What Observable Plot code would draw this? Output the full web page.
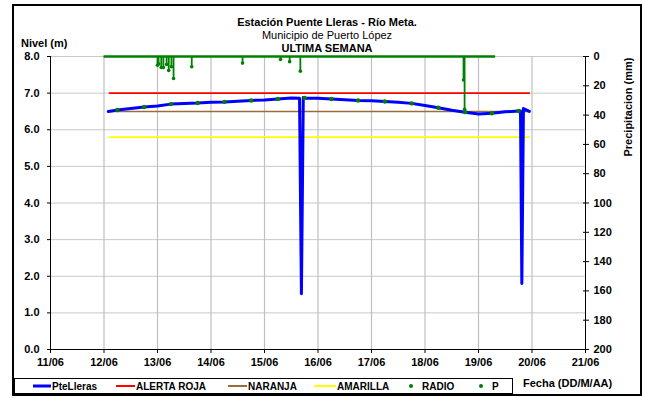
<!DOCTYPE html>
<html><head><meta charset="utf-8">
<script src="https://cdn.jsdelivr.net/npm/d3@7"></script>
<script src="https://cdn.jsdelivr.net/npm/@observablehq/plot@0.6"></script>
<style>
body{margin:0;background:#fff;}
#wrap{position:relative;width:645px;height:398px;font-family:Arial,"Liberation Sans",sans-serif;color:#000;overflow:hidden;}
#wrap svg{position:absolute;left:0;top:0;}
.t{position:absolute;white-space:nowrap;line-height:1;}
.c{transform:translate(-50%,-50%);}
.lg{position:absolute;top:50%;transform:translateY(-50%);}
</style></head><body><div id="wrap"></div>
<script>
// ---- data ----
const dayTicks = [11, 12, 13, 14, 15, 16, 17, 18, 19, 20, 21];
const levelTicks = [0, 1, 2, 3, 4, 5, 6, 7, 8];
const precipTicks = [0, 20, 40, 60, 80, 100, 120, 140, 160, 180, 200];

// PteLleras level (m), day of June
const levelDays = [12.08, 12.25, 12.5, 12.75, 13.0, 13.25, 13.5, 13.75, 14.0, 14.25, 14.5, 14.75, 15.0, 15.25, 15.5, 15.655, 15.69, 15.725, 15.75, 16.0, 16.25, 16.5, 16.75, 17.0, 17.25, 17.5, 17.75, 18.0, 18.25, 18.5, 18.75, 19.0, 19.25, 19.5, 19.75, 19.785, 19.81, 19.84, 19.88, 19.95];
const levelValues = [6.50, 6.54, 6.58, 6.62, 6.65, 6.70, 6.72, 6.73, 6.75, 6.76, 6.78, 6.80, 6.81, 6.84, 6.87, 6.86, 1.52, 6.88, 6.87, 6.86, 6.84, 6.82, 6.80, 6.79, 6.77, 6.75, 6.72, 6.66, 6.60, 6.53, 6.48, 6.43, 6.45, 6.49, 6.51, 6.51, 1.80, 6.58, 6.55, 6.50];

// RADIO readings (m)
const radioDays = [12.25, 12.75, 13.25, 13.75, 14.25, 14.75, 15.25, 15.75, 16.25, 16.75, 17.25, 17.75, 18.25, 18.75, 19.25, 19.75];
const radioValues = [6.54, 6.62, 6.70, 6.73, 6.76, 6.80, 6.84, 6.87, 6.84, 6.80, 6.77, 6.72, 6.60, 6.48, 6.45, 6.51];

// Alert thresholds (m)
const alertNames = ["ALERTA ROJA", "NARANJA", "AMARILLA"];
const alertValues = [7.0, 6.5, 5.8];
const alertStart = 12.1, alertEnd = 19.97;

// Precipitation P (mm)
const precipStart = 12.0, precipEnd = 19.32;
const precipDays = [13.00, 13.02, 13.07, 13.11, 13.17, 13.21, 13.26, 13.30, 13.64, 14.59, 15.30, 15.47, 15.67, 18.72, 18.74];
const precipMm = [6, 5, 7.5, 7.5, 5.5, 9.5, 7, 15, 7, 4.5, 2, 3.5, 10, 16, 36];

// ---- build ----
const levelMax = 8, mmMax = 200;
const mmToY = mm => levelMax - mm * levelMax / mmMax;
const level = levelDays.map((d, i) => ({day: d, level: levelValues[i]}));
const radio = radioDays.map((d, i) => ({day: d, level: radioValues[i]}));
const precip = precipDays.map((d, i) => ({day: d, mm: precipMm[i]}));
const alerts = alertNames.map((n, i) => ({name: n, value: alertValues[i]}));
const alertColor = {"ALERTA ROJA": "#ff0000", "NARANJA": "#9c6b3c", "AMARILLA": "#ffff00"};
const green = "#008000";

const chart = Plot.plot({
  width: 645, height: 398,
  marginLeft: 50, marginRight: 60, marginTop: 56, marginBottom: 49,
  x: {domain: [11, 21]},
  y: {domain: [0, 8]},
  style: {fontFamily: "Arial, 'Liberation Sans', sans-serif", fontSize: "11px", fontWeight: "bold", color: "#000", background: "transparent"},
  marks: [
    Plot.gridY(levelTicks.slice(1), {stroke: "#c8c8c8", strokeOpacity: 1}),
    Plot.gridX(dayTicks.slice(1, -1), {stroke: "#c0c0c0", strokeOpacity: 1, strokeWidth: 1.2}),
    Plot.ruleX([11, 21], {stroke: "#000"}),
    Plot.ruleY([0], {stroke: "#000"}),
    Plot.axisY(levelTicks, {anchor: "left", tickSize: 3, tickPadding: 8, tickFormat: d => d.toFixed(1), label: null}),
    Plot.axisY(precipTicks.map(mmToY), {anchor: "right", tickSize: 6, dx: -3, tickFormat: () => "", label: null}),
    Plot.axisY(precipTicks.map(mmToY), {anchor: "right", tickSize: 0, tickPadding: 8, tickFormat: d => String(Math.round((levelMax - d) * mmMax / levelMax)), label: null}),
    Plot.axisX(dayTicks, {anchor: "bottom", tickSize: 4, tickPadding: 5, tickFormat: d => `${d}/06`, label: null}),
    Plot.ruleY(alerts, {y: "value", x1: alertStart, x2: alertEnd, stroke: d => alertColor[d.name], strokeWidth: 1.6}),
    Plot.line(level, {x: "day", y: "level", stroke: "#0000ff", strokeWidth: 3, strokeLinejoin: "round"}),
    Plot.dot(radio, {x: "day", y: "level", r: 2.2, fill: green}),
    Plot.ruleY([mmToY(0)], {x1: precipStart, x2: precipEnd, stroke: green, strokeWidth: 2.5}),
    Plot.ruleX(precip, {x: "day", y1: mmToY(0), y2: d => mmToY(d.mm), stroke: green, strokeWidth: 1.8}),
    Plot.dot(precip, {x: "day", y: d => mmToY(d.mm), r: 1.8, fill: green})
  ]
});

const wrap = document.getElementById("wrap");
wrap.appendChild(chart);

function addText(txt, x, y, css, cls) {
  const el = document.createElement("div");
  el.className = "t " + (cls || "");
  el.textContent = txt;
  el.style.left = x + "px"; el.style.top = y + "px";
  Object.assign(el.style, css || {});
  wrap.appendChild(el);
  return el;
}
addText("Estación Puente Lleras - Río Meta.", 327, 22, {fontSize: "11px", fontWeight: "bold"}, "c");
addText("Municipio de Puerto López", 327, 35, {fontSize: "11px"}, "c");
addText("ULTIMA SEMANA", 327, 48, {fontSize: "11px", fontWeight: "bold"}, "c");
addText("Nivel (m)", 21, 38, {fontSize: "11px", fontWeight: "bold"});
const pl = addText("Precipitacion (mm)", 628, 107, {fontSize: "11px", fontWeight: "bold"});
pl.style.transform = "translate(-50%,-50%) rotate(-90deg)";
addText("Fecha (DD/M/AA)", 523, 378, {fontSize: "11px", fontWeight: "bold"});

// legend
const lg = document.createElement("div");
Object.assign(lg.style, {position: "absolute", left: "14px", top: "378px", width: "499px", height: "16px", border: "1px solid #000", boxSizing: "border-box", background: "#fff", fontSize: "10px", fontWeight: "bold"});
wrap.appendChild(lg);
const legendItems = [
  {label: "PteLleras", color: "#0000ff", kind: "line", x: 18, w: 18, h: 3},
  {label: "ALERTA ROJA", color: "#ff0000", kind: "line", x: 101, w: 19, h: 2},
  {label: "NARANJA", color: "#9c6b3c", kind: "line", x: 213, w: 19, h: 2},
  {label: "AMARILLA", color: "#ffff00", kind: "line", x: 299, w: 22, h: 2},
  {label: "RADIO", color: green, kind: "dot", x: 396},
  {label: "P", color: green, kind: "dot", x: 466}
];
for (const it of legendItems) {
  const sw = document.createElement("div");
  if (it.kind === "line") {
    Object.assign(sw.style, {position: "absolute", left: it.x + "px", top: "50%", width: it.w + "px", height: it.h + "px", background: it.color, transform: "translateY(-50%)"});
  } else {
    Object.assign(sw.style, {position: "absolute", left: (it.x - 2) + "px", top: "50%", width: "4px", height: "4px", borderRadius: "50%", background: it.color, transform: "translateY(-50%)"});
  }
  lg.appendChild(sw);
  const tx = document.createElement("div");
  tx.className = "lg";
  tx.textContent = it.label;
  tx.style.left = (it.kind === "line" ? it.x + it.w + 1 : it.x + 11) + "px";
  tx.style.whiteSpace = "nowrap";
  lg.appendChild(tx);
}

// outer frame
const fr = document.createElement("div");
Object.assign(fr.style, {position: "absolute", left: "12px", top: "4px", width: "630px", height: "392px", border: "2px solid #000", boxSizing: "border-box", pointerEvents: "none"});
wrap.appendChild(fr);
</script>
</body></html>
